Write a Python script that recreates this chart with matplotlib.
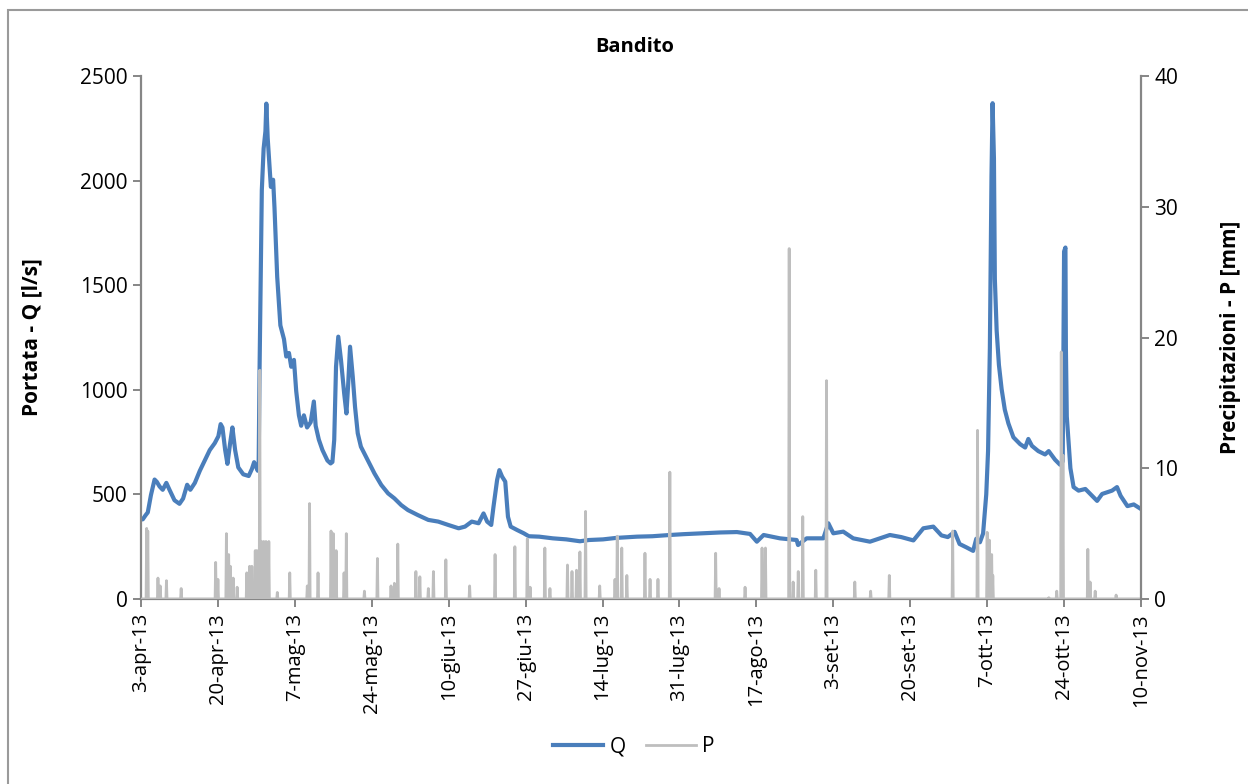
import matplotlib
matplotlib.use('Agg')
import matplotlib.pyplot as plt
import matplotlib.patches as patches
import numpy as np

plt.rcParams['font.family'] = ['Open Sans', 'DejaVu Sans']

# giorni dal 3-apr-13
q_days = [0.0, 0.4, 1.0, 1.5, 2.2, 3.0, 3.5, 4.1, 4.8, 5.6, 6.3, 7.4, 8.5, 9.3, 10.2, 10.9, 11.9,
          13.0, 14.1, 15.2, 16.3, 17.1, 17.6, 18.0, 18.6, 19.1, 19.7, 20.2, 20.8, 21.5, 22.6, 23.8,
          24.5, 25.0, 25.8, 26.0, 26.2, 26.5, 26.7, 27.1, 27.5, 27.7, 28.0, 28.4, 28.7, 29.2, 29.5,
          30.1, 30.8, 31.6, 32.1, 32.7, 33.2, 33.8, 34.3, 34.9, 35.4, 36.0, 36.7, 37.5, 38.2, 38.6,
          39.3, 40.1, 41.2, 41.9, 42.3, 42.7, 43.1, 43.6, 44.2, 44.9, 45.4, 45.8, 46.2, 46.8, 47.3,
          47.9, 48.6, 50.1, 51.6, 53.1, 54.6, 56.0, 57.5, 59.0, 61.2, 63.5, 65.7, 67.9, 70.2, 71.6,
          73.1, 74.6, 75.7, 76.5, 77.4, 77.9, 78.7, 79.2, 79.8, 80.5, 81.1, 81.7, 83.1, 84.6, 85.7,
          88.0, 91.0, 94.0, 97.0, 99.0, 102.1, 105.0, 109.6, 113.0, 116.9, 120.0, 124.2, 128.0,
          131.7, 134.6, 136.1, 137.6, 141.2, 144.9, 145.2, 147.1, 150.8, 151.9, 153.0, 155.2, 157.4,
          161.1, 165.5, 168.0, 170.7, 172.9, 175.1, 176.9, 178.3, 179.8, 180.9, 182.4, 183.9, 184.6,
          185.4, 186.1, 186.8, 187.2, 187.6, 187.96, 188.2, 188.5, 188.7, 189.1, 189.6, 190.2, 190.9,
          191.7, 192.8, 194.3, 195.4, 196.1, 196.9, 198.3, 199.8, 200.6, 202.0, 203.1, 203.7, 204.0,
          204.3, 204.4, 204.6, 205.4, 206.1, 207.2, 208.7, 209.8, 211.3, 212.4, 214.6, 215.7, 216.5,
          218.0, 219.4, 221.0]
q_vals = [380, 381, 400, 414, 497, 571, 560, 538, 522, 555, 522, 472, 455, 480, 546, 522, 555,
          613, 662, 712, 745, 778, 836, 820, 712, 646, 745, 820, 712, 629, 596, 588,
          621, 654, 613, 640, 1093, 1600, 1954, 2153, 2236, 2368, 2203, 2070, 1970, 2004, 1871,
          1540, 1308, 1242, 1159, 1176, 1110, 1143, 994, 878, 828, 878, 820, 845, 944, 828,
          762, 712, 662, 648, 655, 760, 1110, 1254, 1142, 983, 887, 1031, 1206, 1062, 919,
          792, 728, 664, 600, 545, 505, 481, 449, 425, 401, 378, 370, 354, 338, 346,
          370, 362, 409, 370, 354, 441, 569, 616, 585, 561, 393, 346, 330, 314, 300,
          298, 290, 285, 276, 282, 285, 292, 298, 300, 306, 310, 314, 318,
          320, 311, 274, 306, 290, 282, 258, 290, 290, 362, 314, 322, 290,
          274, 306, 296, 280, 338, 346, 304, 296, 321, 263, 247, 230, 288,
          271, 313, 500, 707, 1201, 2023, 2370, 2106, 1530, 1283, 1119, 1003, 905,
          839, 773, 740, 724, 765, 732, 707, 691, 707, 666, 642, 658, 1661,
          1680, 1201, 872, 625, 535, 518, 526, 502, 469, 502, 518, 535, 493,
          444, 452, 430]

# piogge: giorno, mm
p_days = [1.2, 1.5, 3.7, 4.2, 5.6, 8.9, 16.5, 17.0, 18.9, 19.4, 19.7, 20.4, 21.2, 23.4, 24.0, 24.5,
          25.2, 25.6, 26.2, 26.6, 27.1, 27.6, 28.2, 30.1, 32.9, 36.7, 37.3, 39.1, 42.0, 42.5, 43.1,
          44.9, 45.4, 49.4, 52.3, 55.3, 56.0, 56.8, 60.7, 61.6, 63.5, 64.6, 67.4, 72.6, 78.3, 82.6,
          85.4, 86.0, 89.3, 90.4, 94.3, 95.2, 96.3, 97.0, 98.3, 101.4, 104.7, 105.3, 106.3, 107.4,
          111.4, 112.5, 114.3, 116.9, 127.0, 127.8, 133.5, 137.3, 138.0, 143.3, 144.1, 145.3, 146.2,
          149.1, 151.5, 157.8, 161.3, 165.4, 179.4, 184.9, 187.0, 187.5, 188.0, 188.3, 200.6, 202.4,
          203.4, 203.8, 209.3, 209.8, 210.9, 215.5]
p_vals = [5.4, 5.2, 1.6, 1.0, 1.4, 0.8, 2.8, 1.5, 5.0, 3.4, 2.5, 1.6, 0.9, 2.0, 2.5, 2.5,
          3.7, 3.7, 17.5, 4.4, 4.4, 4.4, 4.4, 0.5, 2.0, 1.0, 7.3, 2.0, 5.2, 5.0, 3.7,
          2.0, 5.0, 0.6, 3.1, 1.0, 1.2, 4.2, 2.1, 1.7, 0.8, 2.1, 3.0, 1.0, 3.4, 4.0,
          4.6, 0.9, 3.9, 0.8, 2.6, 2.1, 2.2, 3.6, 6.7, 1.0, 1.5, 4.8, 3.9, 1.8,
          3.5, 1.5, 1.5, 9.7, 3.5, 0.8, 0.9, 3.9, 3.9, 26.8, 1.3, 2.1, 6.3,
          2.2, 16.7, 1.3, 0.6, 1.8, 5.2, 12.9, 5.1, 4.5, 3.4, 1.8, 0.1, 0.6,
          18.9, 11.0, 3.8, 1.3, 0.6, 0.3]

tick_days = [0, 17, 34, 51, 68, 85, 102, 119, 136, 153, 170, 187, 204, 221]
tick_labels = ['3-apr-13', '20-apr-13', '7-mag-13', '24-mag-13', '10-giu-13', '27-giu-13',
               '14-lug-13', '31-lug-13', '17-ago-13', '3-set-13', '20-set-13', '7-ott-13',
               '24-ott-13', '10-nov-13']

# serie P su passo di 3 ore, zero dove non piove
step = 1 / 8
p_t = np.arange(0, 221 + step, step)
p_series = np.zeros_like(p_t)
for d, v in zip(p_days, p_vals):
    i = int(round(d / step))
    p_series[i] = max(p_series[i], v)

fig = plt.figure(figsize=(12.48, 7.84), dpi=100)
ax = fig.add_axes([141 / 1248, 1 - 599 / 784, 1000 / 1248, 523 / 784])
ax2 = ax.twinx()

blue = '#4A7EBB'
grey = '#BEBEBE'
axcol = '#868686'

lq, = ax.plot(q_days, q_vals, color=blue, lw=3.0, solid_joinstyle='round')
lp, = ax2.plot(p_t, p_series, color=grey, lw=2.0)

ax.set_xlim(0, 221)
ax.set_ylim(0, 2500)
ax2.set_ylim(0, 40)
ax.set_yticks([0, 500, 1000, 1500, 2000, 2500])
ax2.set_yticks([0, 10, 20, 30, 40])
ax.set_xticks(tick_days)
ax.set_xticklabels(tick_labels, rotation=90, fontsize=14.5)

for a in (ax, ax2):
    a.spines['top'].set_visible(False)
    for s in ('left', 'right', 'bottom'):
        a.spines[s].set_color(axcol)
        a.spines[s].set_linewidth(1.6)
    a.tick_params(axis='both', colors=axcol, labelcolor='black', length=6, width=1.4,
                  labelsize=15)
ax.spines['right'].set_visible(False)
ax2.spines['left'].set_visible(False)
ax2.spines['bottom'].set_visible(False)
ax.tick_params(axis='x', labelsize=14.5, pad=4)

ax.set_ylabel('Portata - Q [l/s]', fontsize=15, fontweight='bold')
ax2.set_ylabel('Precipitazioni - P [mm]', fontsize=15, fontweight='bold')
ax.yaxis.set_label_coords(-0.099, 0.5)
ax2.yaxis.set_label_coords(1.079, 0.5)

fig.text(635 / 1248, 1 - 47 / 784, 'Bandito', ha='center', va='center', fontsize=14.5,
         fontweight='bold')

fig.legend([lq, lp], ['Q', 'P'], loc='center', bbox_to_anchor=(634 / 1248, 1 - 747 / 784),
           ncol=2, frameon=False, fontsize=15, handlelength=2.4, handletextpad=0.3,
           columnspacing=1.0)

fig.add_artist(patches.Rectangle((8 / 1248, -0.1), 1.2, 1 - 10 / 784 + 0.1,
                                 transform=fig.transFigure, fill=False,
                                 edgecolor='#9A9A9A', lw=1.5))

plt.savefig('out.png', dpi=100)
